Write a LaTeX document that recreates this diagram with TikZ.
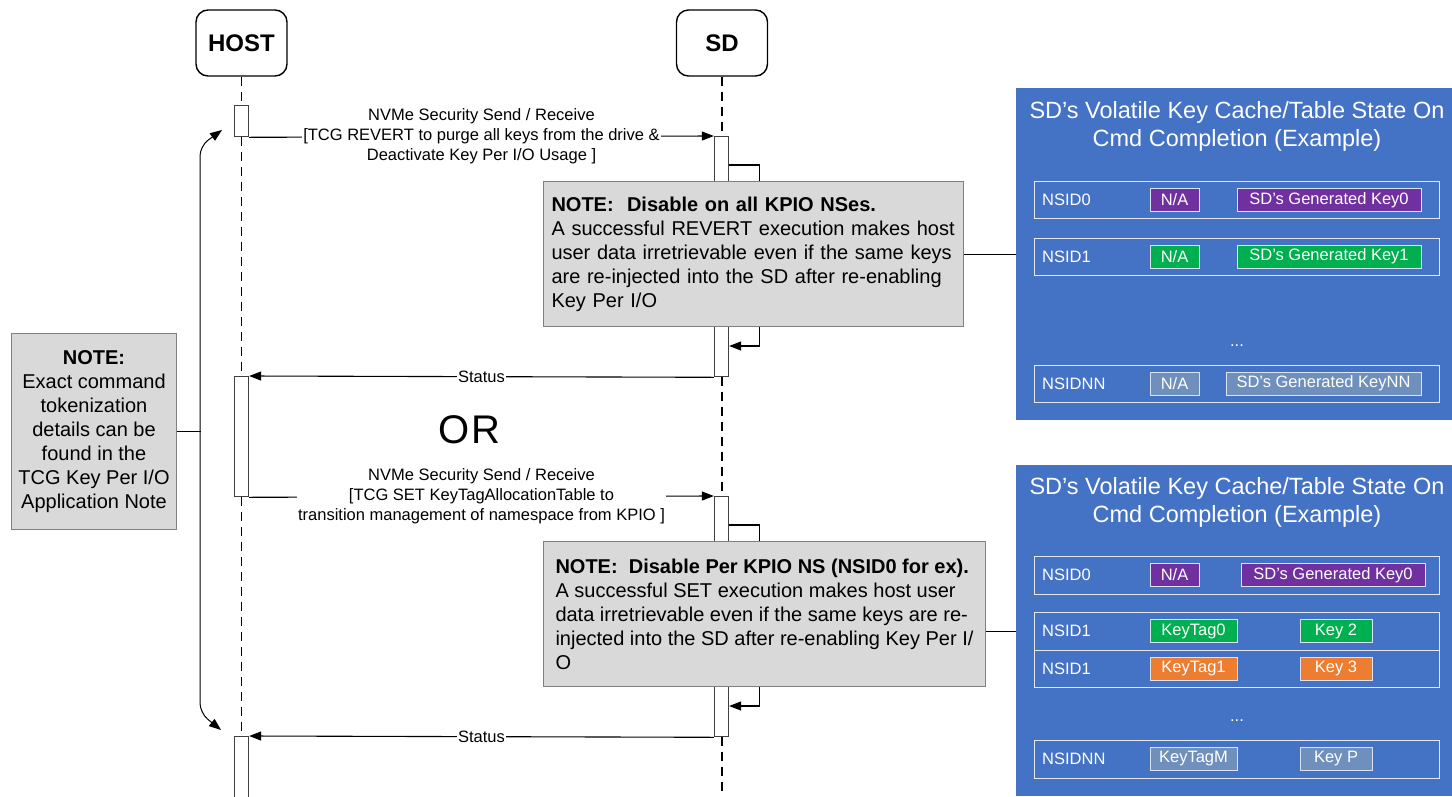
\documentclass[tikz,border=0pt]{standalone}
\usepackage{fontspec}
\setmainfont{Liberation Sans}
\usetikzlibrary{arrows.meta,positioning,calc}
\definecolor{notegray}{HTML}{D9D9D9}
\definecolor{panelblue}{HTML}{4472C4}
\definecolor{kpurple}{HTML}{7030A0}
\definecolor{kgreen}{HTML}{00B050}
\definecolor{korange}{HTML}{ED7D31}
\definecolor{kslate}{HTML}{6F8FBD}

\begin{document}
\begin{tikzpicture}[x=1pt,y=-1pt,
  head/.style={draw,line width=1.4pt,rounded corners=12pt,minimum width=91pt,minimum height=66pt,font=\fontsize{24}{28}\selectfont\bfseries},
  life/.style={line width=1.2pt,dash pattern=on 9pt off 6pt},
  act/.style={draw=black!75,line width=1.3pt,fill=white,minimum width=14pt,anchor=north,inner sep=0pt},
  msg/.style={line width=1.1pt,-{Triangle[length=12pt,width=9pt]}},
  lbl/.style={fill=white,inner sep=1.5pt,align=center,font=\fontsize{16.5}{20}\selectfont},
  note/.style={draw=black!50,line width=1pt,fill=notegray,anchor=north west,font=\fontsize{20}{24}\selectfont},
  panel/.style={fill=panelblue,anchor=north west,inner sep=0pt,minimum width=436pt},
  ttl/.style={text=white,align=center,font=\fontsize{23.5}{28}\selectfont},
  nsrow/.style={draw=white!85!panelblue,line width=1pt,anchor=west,minimum width=405pt,minimum height=37pt,inner sep=0pt},
  nslbl/.style={text=white,anchor=west,inner sep=0pt,font=\fontsize{16.5}{20}\selectfont},
  cell/.style={draw=white!80!panelblue,line width=1pt,text=white,minimum height=23pt,inner sep=0pt,font=\fontsize{16.5}{20}\selectfont},
]
\useasboundingbox (0,0) rectangle (1452,796);

\node[panel,minimum height=332pt] (tab1) at (1016,88) {};
\node[ttl] (ttl1) at (1237,126) {SD’s Volatile Key Cache/Table State On\\Cmd Completion (Example)};
\node[nsrow] (r10) at (1034,200) {};
\node[nslbl] (n10) at ([xshift=8pt]r10.west) {NSID0};
\node[cell,fill=kpurple,minimum width=49pt] (a10) at (1174.5,200) {N/A};
\node[cell,fill=kpurple,minimum width=184pt] (b10) at (1329,200) {SD’s Generated Key0};
\node[nsrow] (r11) at (1034,256.5) {};
\node[nslbl] (n11) at ([xshift=8pt]r11.west) {NSID1};
\node[cell,fill=kgreen,minimum width=49pt] (a11) at (1174.5,256.5) {N/A};
\node[cell,fill=kgreen,minimum width=184pt] (b11) at (1329,256.5) {SD’s Generated Key1};
\node[nslbl,anchor=center] (d1) at (1237,346) {...};
\node[nsrow] (r1n) at (1034,383.5) {};
\node[nslbl] (n1n) at ([xshift=8pt]r1n.west) {NSIDNN};
\node[cell,fill=kslate,minimum width=49pt] (a1n) at (1174.5,383.5) {N/A};
\node[cell,fill=kslate,minimum width=195pt] (b1n) at (1323.5,383.5) {SD’s Generated KeyNN};

\node[panel,minimum height=331pt] (tab2) at (1016,465) {};
\node[ttl] (ttl2) at (1237,502) {SD’s Volatile Key Cache/Table State On\\Cmd Completion (Example)};
\node[nsrow,minimum height=38pt] (r20) at (1034,575) {};
\node[nslbl] (n20) at ([xshift=8pt]r20.west) {NSID0};
\node[cell,fill=kpurple,minimum width=49pt] (a20) at (1174.5,575) {N/A};
\node[cell,fill=kpurple,minimum width=184pt] (b20) at (1333,575) {SD’s Generated Key0};
\node[nsrow,minimum height=38pt] (r21) at (1034,631) {};
\node[nslbl] (n21) at ([xshift=8pt]r21.west) {NSID1};
\node[cell,fill=kgreen,minimum width=87pt] (a21) at (1193.5,631) {KeyTag0};
\node[cell,fill=kgreen,minimum width=72pt] (b21) at (1336,631) {Key 2};
\node[nsrow,minimum height=37pt] (r22) at (1034,668.5) {};
\node[nslbl] (n22) at ([xshift=8pt]r22.west) {NSID1};
\node[cell,fill=korange,minimum width=87pt] (a22) at (1193.5,668.5) {KeyTag1};
\node[cell,fill=korange,minimum width=72pt] (b22) at (1336,668.5) {Key 3};
\node[nslbl,anchor=center] (d2) at (1237,721) {...};
\node[nsrow,minimum height=38pt] (r2n) at (1034,759) {};
\node[nslbl] (n2n) at ([xshift=8pt]r2n.west) {NSIDNN};
\node[cell,fill=kslate,minimum width=87pt] (a2n) at (1193.5,759) {KeyTagM};
\node[cell,fill=kslate,minimum width=72pt] (b2n) at (1336,759) {Key P};

\node[head] (host) at (241.5,43) {HOST};
\node[head] (sd) at (722,43) {SD};
\draw[life] (host.south) -- (241.5,796);
\draw[life] (sd.south) -- (722,796);

\node[act,minimum height=31pt] (h1) at (241.5,105) {};
\node[act,minimum height=240pt] (s1) at (721.5,136) {};
\node[act,minimum height=120pt] (h2) at (241.5,376) {};
\node[act,minimum height=240pt] (s2) at (721.5,496) {};
\node[act,minimum height=70pt] (h3) at (241.5,736) {};

\draw[msg] (h1.south east) -- (s1.north west) node[lbl,midway] (m1) {NVMe Security Send / Receive\\{}[TCG REVERT to purge all keys from the drive \&\\Deactivate Key Per I/O Usage ]};
\draw[msg] ($(s1.north east)+(0,29)$) -- ++(30,0) -- ++(0,181) -- ++(-30,0);
\draw[msg] (s1.south west) -- (h2.north east) node[lbl,midway] (st1) {Status};
\draw[msg] (h2.south east) -- (s2.north west) node[lbl,midway] (m2) {NVMe Security Send / Receive\\{}[TCG SET KeyTagAllocationTable to\\transition management of namespace from KPIO ]};
\draw[msg] ($(s2.north east)+(0,29)$) -- ++(30,0) -- ++(0,181) -- ++(-30,0);
\draw[msg] (s2.south west) -- (h3.north east) node[lbl,midway] (st2) {Status};

\node[font=\fontsize{40}{48}\selectfont] (or) at (469,430) {O\kern2pt R};

\node[note,align=left,text width=404pt,minimum height=145pt,inner sep=8pt] (note1) at (543,181) {\textbf{NOTE:\ \ Disable on all KPIO NSes.}\\A successful REVERT execution makes host\\user data irretrievable even if the same keys\\are re-injected into the SD after re-enabling\\Key Per I/O};
\draw[line width=1pt] (note1.east) -- (note1.east -| tab1.west);
\node[note,align=left,minimum width=442pt,minimum height=145pt,inner xsep=5pt,inner ysep=8pt] (note2) at (543,541) {\textbf{NOTE:\ \ Disable Per KPIO NS (NSID0 for ex).}\\A successful SET execution makes host user\\data irretrievable even if the same keys are re-\\injected into the SD after re-enabling Key Per I/\\O};
\draw[line width=1pt] ($(note2.east)+(0,17)$) -- ($(note2.east -| tab2.west)+(0,17)$);

\node[note,align=center,minimum width=165pt,minimum height=196pt] (lnote) at (11,333) {\textbf{NOTE:}\\Exact command\\tokenization\\details can be\\found in the\\TCG Key Per I/O\\Application Note};
\coordinate (bt) at (222,130);
\coordinate (bb) at (221,730);
\draw[line width=1pt,{Triangle[length=12pt,width=9pt]}-{Triangle[length=12pt,width=9pt]},rounded corners=10pt] (bt) -- (200,146) -- (200,713) -- (bb);
\draw[line width=1pt] (lnote.east) -- ++(24,0);
\end{tikzpicture}
\end{document}
